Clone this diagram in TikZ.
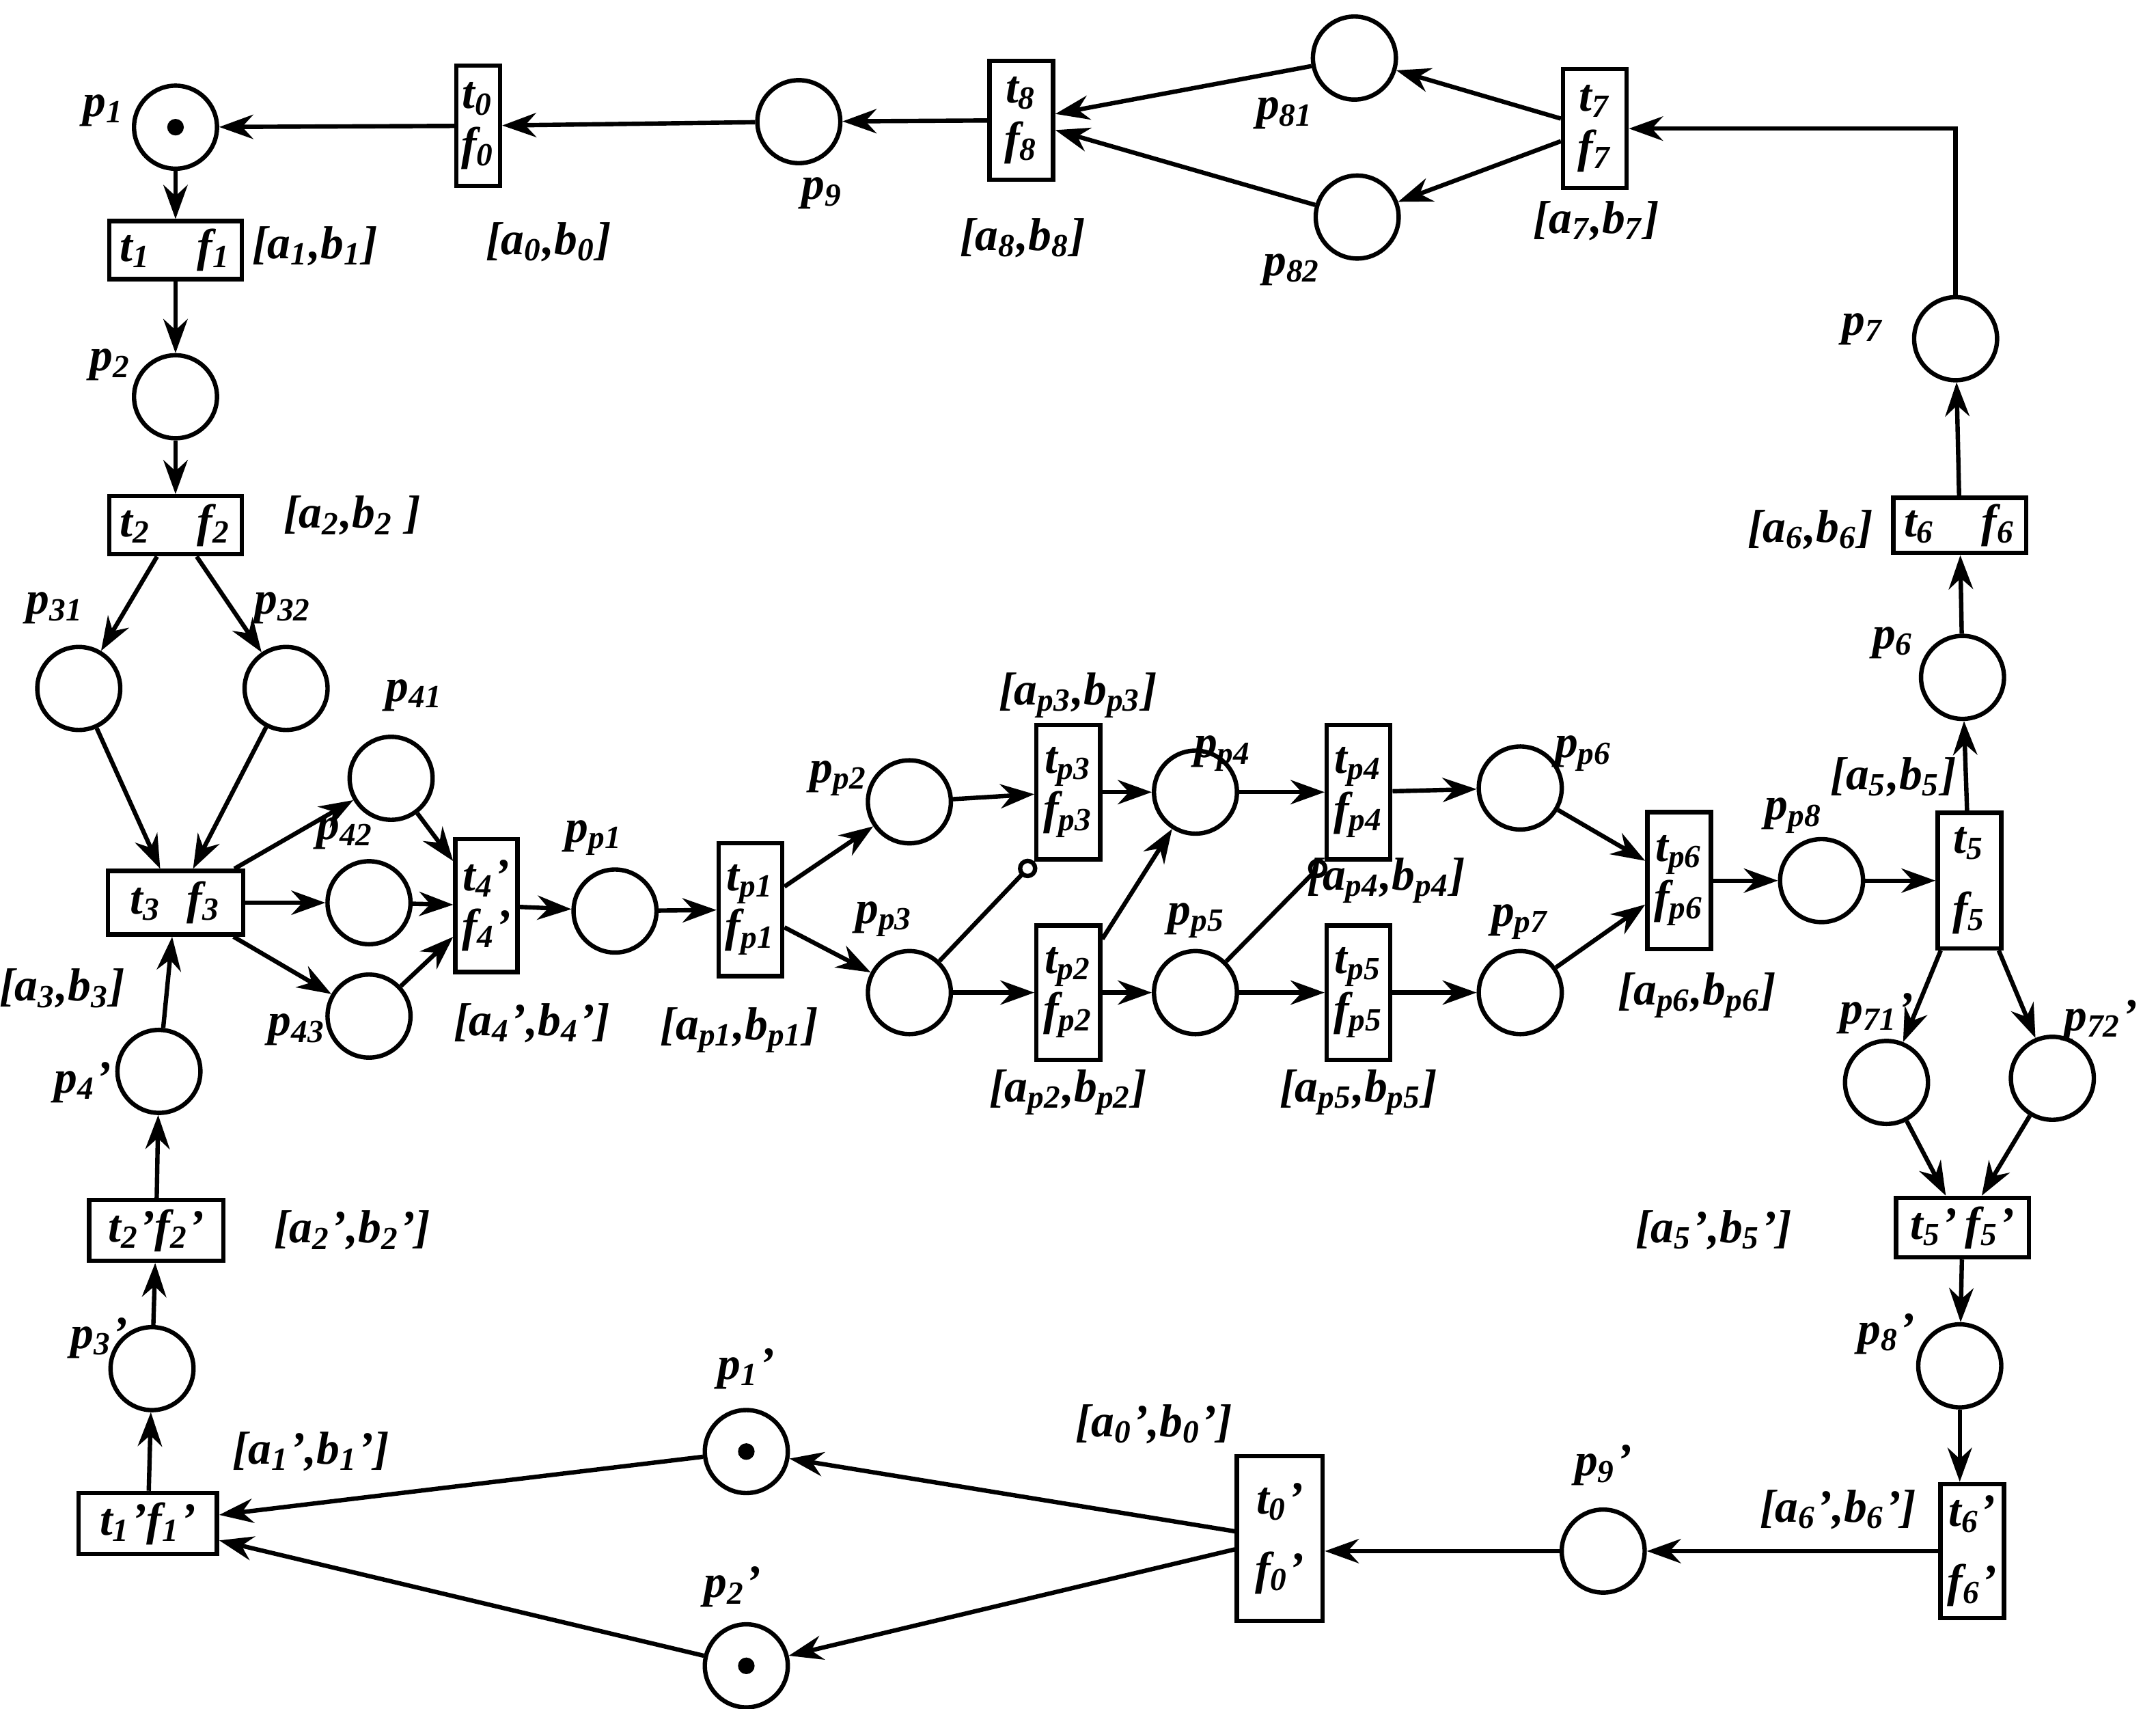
\documentclass[tikz,border=0pt]{standalone}
\usepackage{fontspec}
\setmainfont{Liberation Serif}
\usetikzlibrary{arrows.meta}
\newcommand{\mysub}[2]{#1\textsubscript{#2}}
\begin{document}
\begin{tikzpicture}[x=0.01cm,y=-0.01cm,
 every node/.style={font=\fontsize{9.5}{10.5}\selectfont\bfseries\itshape},
 pl/.style={circle,draw,line width=0.9pt,minimum size=0.6cm,inner sep=0pt},
 tok/.style={pl,path picture={\fill (path picture bounding box.center) circle (0.06cm);}},
 tr/.style={draw,line width=0.9pt,inner sep=1pt,align=center},
 tv/.style={tr,minimum width=0.46cm,minimum height=0.96cm},
 th/.style={tr,minimum width=0.96cm,minimum height=0.42cm},
 ar/.style={line width=0.9pt,-{Stealth[length=7pt,width=5pt]}},
 inh/.style={line width=0.9pt,-{Circle[open,length=4pt]}},
 lb/.style={inner sep=0pt}]
\useasboundingbox (0,0) rectangle (1560,1236);
% places
\node[tok] (p1) at (127,92) {};
\node[pl] (p9) at (578,88) {};
\node[pl] (p81) at (980,42) {};
\node[pl] (p82) at (982,157) {};
\node[pl] (p7) at (1415,245) {};
\node[pl] (p6) at (1420,490) {};
\node[pl] (pp8) at (1318,637) {};
\node[pl] (pp6) at (1100,570) {};
\node[pl] (pp7) at (1100,718) {};
\node[pl] (pp4) at (865,573) {};
\node[pl] (pp5) at (865,718) {};
\node[pl] (pp2) at (658,580) {};
\node[pl] (pp3) at (658,718) {};
\node[pl] (pp1) at (445,659) {};
\node[pl] (p41) at (283,563) {};
\node[pl] (p42) at (267,653) {};
\node[pl] (p43) at (267,735) {};
\node[pl] (p31) at (57,498) {};
\node[pl] (p32) at (207,498) {};
\node[pl] (p2) at (127,287) {};
\node[pl] (p4q) at (115,775) {};
\node[pl] (p3q) at (110,990) {};
\node[tok] (p1q) at (540,1050) {};
\node[tok] (p2q) at (540,1205) {};
\node[pl] (p9q) at (1160,1122) {};
\node[pl] (p8q) at (1418,988) {};
\node[pl] (p71q) at (1365,783) {};
\node[pl] (p72q) at (1485,780) {};
% transitions
\node[tv,minimum height=0.87cm,minimum width=0.24cm] (t0) at (346,91) {\mysub{t}{0}\\\mysub{f}{0}};
\node[tv,minimum height=0.86cm] (t8) at (739,87) {\mysub{t}{8}\\\mysub{f}{8}};
\node[tv,minimum height=0.86cm] (t7) at (1154,93) {\mysub{t}{7}\\\mysub{f}{7}};
\node[th,minimum height=0.4cm] (t6) at (1418,380) {\mysub{t}{6}\quad\mysub{f}{6}};
\node[tv,minimum height=0.98cm] (t5) at (1425,637) {\mysub{t}{5}\\[4pt]\mysub{f}{5}};
\node[tv,minimum height=0.99cm] (tp6) at (1215,637) {\mysub{t}{p6}\\\mysub{f}{p6}};
\node[tv,minimum height=0.97cm] (tp4) at (983,573) {\mysub{t}{p4}\\\mysub{f}{p4}};
\node[tv,minimum height=0.97cm] (tp5) at (983,718) {\mysub{t}{p5}\\\mysub{f}{p5}};
\node[tv,minimum height=0.97cm] (tp3) at (773,573) {\mysub{t}{p3}\\\mysub{f}{p3}};
\node[tv,minimum height=0.97cm] (tp2) at (773,718) {\mysub{t}{p2}\\\mysub{f}{p2}};
\node[tv,minimum height=0.96cm] (tp1) at (543,658) {\mysub{t}{p1}\\\mysub{f}{p1}};
\node[tv,minimum height=0.96cm,minimum width=0.45cm] (t4q) at (352,655) {\mysub{t}{4}'\\\mysub{f}{4}'};
\node[th,minimum height=0.46cm,minimum width=0.98cm] (t3) at (127,653) {\mysub{t}{3}\;\;\mysub{f}{3}};
\node[th] (t2) at (127,380) {\mysub{t}{2}\quad\mysub{f}{2}};
\node[th] (t1) at (127,181) {\mysub{t}{1}\quad\mysub{f}{1}};
\node[th,minimum height=0.44cm,minimum width=0.97cm] (t2q) at (113,890) {\mysub{t}{2}'\mysub{f}{2}'};
\node[th,minimum height=0.44cm,minimum width=1cm] (t1q) at (107,1102) {\mysub{t}{1}'\mysub{f}{1}'};
\node[tv,minimum height=1.19cm,minimum width=0.62cm] (t0q) at (926,1113) {\mysub{t}{0}'\\[4pt]\mysub{f}{0}'};
\node[tv,minimum height=0.97cm] (t6q) at (1427,1122) {\mysub{t}{6}'\\[4pt]\mysub{f}{6}'};
\node[th,minimum height=0.43cm] (t5q) at (1420,888) {\mysub{t}{5}'\,\mysub{f}{5}'};
% arcs
\draw[ar] (t0) -- (p1);
\draw[ar] (p9) -- (t0);
\draw[ar] (t8) -- (p9);
\draw[ar] (p81) -- (t8);
\draw[ar] (p82) -- (t8);
\draw[ar] (t7) -- (p81);
\draw[ar] (t7) -- (p82);
\draw[ar] (p7.north) |- (t7.east);
\draw[ar] (t6) -- (p7);
\draw[ar] (p6) -- (t6);
\draw[ar] (t5) -- (p6);
\draw[ar] (pp8) -- (t5);
\draw[ar] (tp6) -- (pp8);
\draw[ar] (pp6) -- (tp6);
\draw[ar] (pp7) -- (tp6);
\draw[ar] (tp4) -- (pp6);
\draw[ar] (tp5) -- (pp7);
\draw[ar] (pp4) -- (tp4);
\draw[ar] (pp5) -- (tp5);
\draw[inh] (pp5) -- (tp4.south west);
\draw[ar] (tp3) -- (pp4);
\draw[ar] (tp2) -- (pp4);
\draw[ar] (tp2) -- (pp5);
\draw[ar] (pp2) -- (tp3);
\draw[ar] (pp3) -- (tp2);
\draw[inh] (pp3) -- (tp3.south west);
\draw[ar] (tp1) -- (pp2);
\draw[ar] (tp1) -- (pp3);
\draw[ar] (pp1) -- (tp1);
\draw[ar] (t4q) -- (pp1);
\draw[ar] (p41) -- (t4q);
\draw[ar] (p42) -- (t4q);
\draw[ar] (p43) -- (t4q);
\draw[ar] (t3) -- (p41);
\draw[ar] (t3) -- (p42);
\draw[ar] (t3) -- (p43);
\draw[ar] (p31) -- (t3);
\draw[ar] (p32) -- (t3);
\draw[ar] (t2) -- (p31);
\draw[ar] (t2) -- (p32);
\draw[ar] (p2) -- (t2);
\draw[ar] (t1) -- (p2);
\draw[ar] (p1) -- (t1);
\draw[ar] (p4q) -- (t3);
\draw[ar] (t2q) -- (p4q);
\draw[ar] (p3q) -- (t2q);
\draw[ar] (t1q) -- (p3q);
\draw[ar] (p1q) -- (t1q);
\draw[ar] (p2q) -- (t1q);
\draw[ar] (t0q) -- (p1q);
\draw[ar] (t0q) -- (p2q);
\draw[ar] (p9q) -- (p9q -| t0q.east);
\draw[ar] (t6q) -- (p9q);
\draw[ar] (p8q) -- (p8q |- t6q.north);
\draw[ar] (t5q) -- (p8q);
\draw[ar] (p71q) -- (t5q);
\draw[ar] (p72q) -- (t5q);
\draw[ar] (t5) -- (p71q);
\draw[ar] (t5) -- (p72q);
% place labels
\node[lb] (lp1) at (75,80) {\mysub{p}{1}};
\node[lb] (lp9) at (595,140) {\mysub{p}{9}};
\node[lb] (lp81) at (930,82) {\mysub{p}{81}};
\node[lb] (lp82) at (935,195) {\mysub{p}{82}};
\node[lb] (lp7) at (1348,238) {\mysub{p}{7}};
\node[lb] (lp6) at (1370,465) {\mysub{p}{6}};
\node[lb] (lpp8) at (1298,590) {\mysub{p}{p8}};
\node[lb] (lp71) at (1358,733) {\mysub{p}{71}'};
\node[lb] (lp72) at (1520,738) {\mysub{p}{72}'};
\node[lb] (lp8q) at (1365,965) {\mysub{p}{8}'};
\node[lb] (lp9q) at (1160,1060) {\mysub{p}{9}'};
\node[lb] (lp1q) at (540,990) {\mysub{p}{1}'};
\node[lb] (lp2q) at (530,1148) {\mysub{p}{2}'};
\node[lb] (lp3q) at (72,968) {\mysub{p}{3}'};
\node[lb] (lp4q) at (60,783) {\mysub{p}{4}'};
\node[lb] (lp43) at (215,745) {\mysub{p}{43}};
\node[lb] (lp42) at (250,603) {\mysub{p}{42}};
\node[lb] (lp41) at (300,503) {\mysub{p}{41}};
\node[lb] (lp31) at (40,440) {\mysub{p}{31}};
\node[lb] (lp32) at (205,440) {\mysub{p}{32}};
\node[lb] (lp2) at (80,264) {\mysub{p}{2}};
\node[lb] (lpp1) at (430,606) {\mysub{p}{p1}};
\node[lb] (lpp2) at (607,563) {\mysub{p}{p2}};
\node[lb] (lpp3) at (640,665) {\mysub{p}{p3}};
\node[lb] (lpp4) at (885,545) {\mysub{p}{p4}};
\node[lb] (lpp5) at (866,666) {\mysub{p}{p5}};
\node[lb] (lpp6) at (1146,545) {\mysub{p}{p6}};
\node[lb] (lpp7) at (1100,667) {\mysub{p}{p7}};
% intervals
\node[lb] (i1) at (228,178) {[\mysub{a}{1},\mysub{b}{1}]};
\node[lb] (i0) at (397,175) {[\mysub{a}{0},\mysub{b}{0}]};
\node[lb] (i8) at (740,172) {[\mysub{a}{8},\mysub{b}{8}]};
\node[lb] (i7) at (1155,160) {[\mysub{a}{7},\mysub{b}{7}]};
\node[lb] (i2) at (255,373) {[\mysub{a}{2},\mysub{b}{2} ]};
\node[lb] (i6) at (1310,383) {[\mysub{a}{6},\mysub{b}{6}]};
\node[lb] (i5) at (1370,562) {[\mysub{a}{5},\mysub{b}{5}]};
\node[lb] (i3) at (45,715) {[\mysub{a}{3},\mysub{b}{3}]};
\node[lb] (i4) at (385,740) {[\mysub{a}{4}',\mysub{b}{4}']};
\node[lb] (ip1) at (535,745) {[\mysub{a}{p1},\mysub{b}{p1}]};
\node[lb] (ip3) at (780,503) {[\mysub{a}{p3},\mysub{b}{p3}]};
\node[lb] (ip2) at (773,790) {[\mysub{a}{p2},\mysub{b}{p2}]};
\node[lb] (ip4) at (1003,637) {[\mysub{a}{p4},\mysub{b}{p4}]};
\node[lb] (ip5) at (983,790) {[\mysub{a}{p5},\mysub{b}{p5}]};
\node[lb] (ip6) at (1228,720) {[\mysub{a}{p6},\mysub{b}{p6}]};
\node[lb] (i2q) at (255,890) {[\mysub{a}{2}',\mysub{b}{2}']};
\node[lb] (i5q) at (1240,890) {[\mysub{a}{5}',\mysub{b}{5}']};
\node[lb] (i1q) at (225,1050) {[\mysub{a}{1}',\mysub{b}{1}']};
\node[lb] (i0q) at (835,1030) {[\mysub{a}{0}',\mysub{b}{0}']};
\node[lb] (i6q) at (1330,1092) {[\mysub{a}{6}',\mysub{b}{6}']};
\end{tikzpicture}
\end{document}
